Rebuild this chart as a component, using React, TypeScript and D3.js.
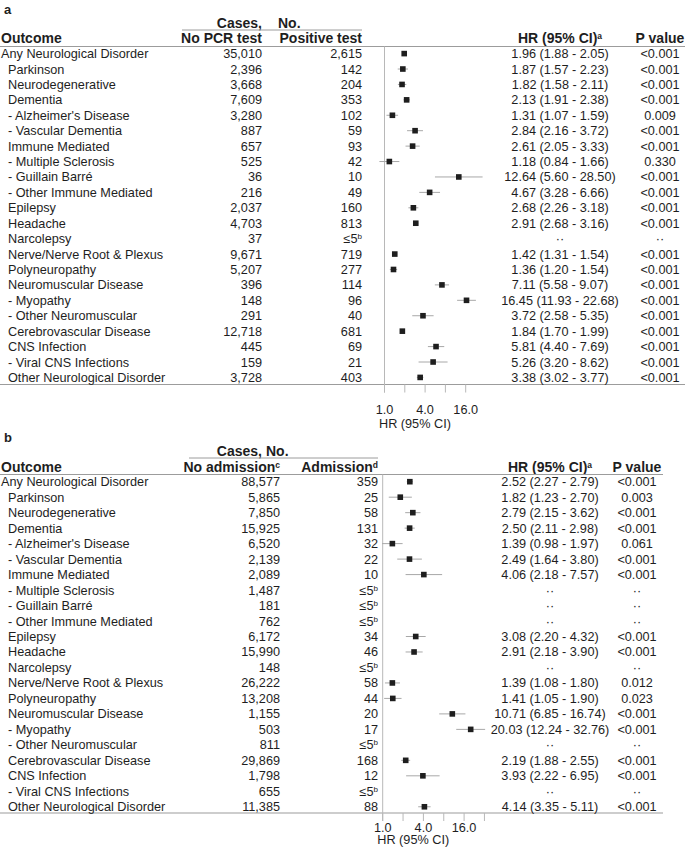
import React from 'react';
import * as d3 from 'd3';

// ---------- DATA ----------
const outcomes = [
  'Any Neurological Disorder',
  'Parkinson',
  'Neurodegenerative',
  'Dementia',
  "- Alzheimer's Disease",
  '- Vascular Dementia',
  'Immune Mediated',
  '- Multiple Sclerosis',
  '- Guillain Barré',
  '- Other Immune Mediated',
  'Epilepsy',
  'Headache',
  'Narcolepsy',
  'Nerve/Nerve Root & Plexus',
  'Polyneuropathy',
  'Neuromuscular Disease',
  '- Myopathy',
  '- Other Neuromuscular',
  'Cerebrovascular Disease',
  'CNS Infection',
  '- Viral CNS Infections',
  'Other Neurological Disorder',
];

// Panel a
const aNoTest = [35010, 2396, 3668, 7609, 3280, 887, 657, 525, 36, 216, 2037, 4703, 37, 9671, 5207, 396, 148, 291, 12718, 445, 159, 3728];
const aPositive: (number | null)[] = [2615, 142, 204, 353, 102, 59, 93, 42, 10, 49, 160, 813, null, 719, 277, 114, 96, 40, 681, 69, 21, 403];
const aHR: (number | null)[] = [1.96, 1.87, 1.82, 2.13, 1.31, 2.84, 2.61, 1.18, 12.64, 4.67, 2.68, 2.91, null, 1.42, 1.36, 7.11, 16.45, 3.72, 1.84, 5.81, 5.26, 3.38];
const aLo: (number | null)[] = [1.88, 1.57, 1.58, 1.91, 1.07, 2.16, 2.05, 0.84, 5.6, 3.28, 2.26, 2.68, null, 1.31, 1.2, 5.58, 11.93, 2.58, 1.7, 4.4, 3.2, 3.02];
const aHi: (number | null)[] = [2.05, 2.23, 2.11, 2.38, 1.59, 3.72, 3.33, 1.66, 28.5, 6.66, 3.18, 3.16, null, 1.54, 1.54, 9.07, 22.68, 5.35, 1.99, 7.69, 8.62, 3.77];
const aP = ['<0.001', '<0.001', '<0.001', '<0.001', '0.009', '<0.001', '<0.001', '0.330', '<0.001', '<0.001', '<0.001', '<0.001', '··', '<0.001', '<0.001', '<0.001', '<0.001', '<0.001', '<0.001', '<0.001', '<0.001', '<0.001'];

// Panel b
const bNoAdm = [88577, 5865, 7850, 15925, 6520, 2139, 2089, 1487, 181, 762, 6172, 15990, 148, 26222, 13208, 1155, 503, 811, 29869, 1798, 655, 11385];
const bAdm: (number | null)[] = [359, 25, 58, 131, 32, 22, 10, null, null, null, 34, 46, null, 58, 44, 20, 17, null, 168, 12, null, 88];
const bHR: (number | null)[] = [2.52, 1.82, 2.79, 2.5, 1.39, 2.49, 4.06, null, null, null, 3.08, 2.91, null, 1.39, 1.41, 10.71, 20.03, null, 2.19, 3.93, null, 4.14];
const bLo: (number | null)[] = [2.27, 1.23, 2.15, 2.11, 0.98, 1.64, 2.18, null, null, null, 2.2, 2.18, null, 1.08, 1.05, 6.85, 12.24, null, 1.88, 2.22, null, 3.35];
const bHi: (number | null)[] = [2.79, 2.7, 3.62, 2.98, 1.97, 3.8, 7.57, null, null, null, 4.32, 3.9, null, 1.8, 1.9, 16.74, 32.76, null, 2.55, 6.95, null, 5.11];
const bP = ['<0.001', '0.003', '<0.001', '<0.001', '0.061', '<0.001', '<0.001', '··', '··', '··', '<0.001', '<0.001', '··', '0.012', '0.023', '<0.001', '<0.001', '··', '<0.001', '<0.001', '··', '<0.001'];

const aTicks = [1, 2, 4, 8, 16];
const bTicks = [1, 2, 4, 8, 16, 32];
const tickLabels = [1, 4, 16];

// ---------- STYLE ----------
const FONT = '"Liberation Sans", Arial, Helvetica, sans-serif';
const TXT = '#1e1e1e';
const LINE = '#9c9c9c';
const VLINE = '#b8b8b8';
const CI = '#a8a8a8';
const FS = 12.7;
const HFS = 14;

const fmtN = d3.format(',');
const f2 = (v: number) => v.toFixed(2);

type PanelProps = {
  letter: string;
  head1: string; head1Sup?: string;
  head2: string; head2Sup?: string;
  colA: number[]; colB: (number | null)[];
  hr: (number | null)[]; lo: (number | null)[]; hi: (number | null)[]; p: string[];
  ticks: number[];
  L: {
    letterY: number; spanY: number; spanTextY: number; spanX1: number; spanX2: number;
    casesEnd: number; noStart: number;
    headY: number; headLineY: number; lineX2: number;
    row0: number; step: number; bottomY: number;
    x0: number; dec: number; tickEnd: number; tickLabY: number; axisLabY: number;
    colAR: number; colBR: number; hrC: number; pC: number;
  };
};

function Sup({ t }: { t?: string }) {
  if (!t) return null;
  return <tspan fontSize={8.5} dy={-4.5}>{t}</tspan>;
}

function Panel(props: PanelProps) {
  const { L } = props;
  const maxT = props.ticks[props.ticks.length - 1];
  const x = d3.scaleLog().base(2).domain([1, maxT]).range([L.x0, L.x0 + Math.log2(maxT) * L.dec]);
  const y = (i: number) => L.row0 + i * L.step;
  const bold = { fontWeight: 700, fontSize: HFS } as const;
  return (
    <g fontFamily={FONT} fill={TXT}>
      <text x={4} y={L.letterY} {...bold} fontSize={13}>{props.letter}</text>
      <text x={L.casesEnd} y={L.spanTextY} textAnchor="end" {...bold}>Cases,</text>
      <text x={L.noStart} y={L.spanTextY} {...bold}>No.</text>
      <line x1={L.spanX1} x2={L.spanX2} y1={L.spanY} y2={L.spanY} stroke={LINE} strokeWidth={1} />
      <text x={1} y={L.headY} {...bold}>Outcome</text>
      <text x={L.colAR} y={L.headY} textAnchor="end" {...bold}>{props.head1}<Sup t={props.head1Sup} /></text>
      <text x={L.colBR} y={L.headY} textAnchor="end" {...bold}>{props.head2}<Sup t={props.head2Sup} /></text>
      <text x={L.hrC} y={L.headY} textAnchor="middle" {...bold}>HR (95% CI)<Sup t="a" /></text>
      <text x={L.pC} y={L.headY} textAnchor="middle" {...bold}>P value</text>
      <line x1={0} x2={L.lineX2} y1={L.headLineY} y2={L.headLineY} stroke={LINE} strokeWidth={1.2} />
      <line x1={0} x2={L.lineX2} y1={L.bottomY} y2={L.bottomY} stroke={LINE} strokeWidth={1.2} />
      <line x1={L.x0} x2={L.x0} y1={L.headLineY} y2={L.tickEnd} stroke={VLINE} strokeWidth={1} />
      {props.ticks.map((t) => (
        <line key={t} x1={x(t)} x2={x(t)} y1={L.bottomY} y2={L.tickEnd} stroke={VLINE} strokeWidth={1} />
      ))}
      {tickLabels.map((t) => (
        <text key={t} x={x(t)} y={L.tickLabY} textAnchor="middle" fontSize={FS}>{t.toFixed(1)}</text>
      ))}
      <text x={x(Math.sqrt(8))} y={L.axisLabY} textAnchor="middle" fontSize={FS}>HR (95% CI)</text>
      {outcomes.map((o, i) => {
        const cy = y(i);
        const ty = cy + 4.5;
        const h = props.hr[i], lo = props.lo[i], hi = props.hi[i];
        const b = props.colB[i];
        return (
          <g key={i} fontSize={FS}>
            <text x={i === 0 ? 1 : 8} y={ty}>{o}</text>
            <text x={L.colAR} y={ty} textAnchor="end">{fmtN(props.colA[i])}</text>
            <text x={L.colBR} y={ty} textAnchor="end">{b === null ? <>≤5<tspan fontSize={8} dy={-4}>b</tspan></> : fmtN(b)}</text>
            <text x={L.hrC} y={ty} textAnchor="middle">{h === null ? '··' : `${f2(h)} (${f2(lo!)} - ${f2(hi!)})`}</text>
            <text x={L.pC} y={ty} textAnchor="middle">{props.p[i]}</text>
            {h !== null && (
              <>
                <line x1={x(lo!)} x2={x(hi!)} y1={cy} y2={cy} stroke={CI} strokeWidth={1} />
                <rect x={x(h) - 2.8} y={cy - 2.8} width={5.6} height={5.6} fill={TXT} />
              </>
            )}
          </g>
        );
      })}
    </g>
  );
}

export default function App() {
  return (
    <svg width={685} height={860} style={{ position: 'absolute', left: 0, top: 0, background: '#fff' }}>
      <rect width={685} height={860} fill="#fff" />
      <Panel
        letter="a" head1="No PCR test" head2="Positive test"
        colA={aNoTest} colB={aPositive} hr={aHR} lo={aLo} hi={aHi} p={aP} ticks={aTicks}
        L={{
          letterY: 13.5, spanY: 30, spanTextY: 27.5, spanX1: 182, spanX2: 362, casesEnd: 262, noStart: 278,
          headY: 43, headLineY: 46.5, lineX2: 685,
          row0: 53.6, step: 15.42, bottomY: 384.5,
          x0: 384.5, dec: 20.3, tickEnd: 392.5, tickLabY: 413.5, axisLabY: 428,
          colAR: 262, colBR: 362, hrC: 560, pC: 660,
        }}
      />
      <Panel
        letter="b" head1="No admission" head1Sup="c" head2="Admission" head2Sup="d"
        colA={bNoAdm} colB={bAdm} hr={bHR} lo={bLo} hi={bHi} p={bP} ticks={bTicks}
        L={{
          letterY: 442, spanY: 458, spanTextY: 456, spanX1: 189, spanX2: 378, casesEnd: 262, noStart: 266,
          headY: 472, headLineY: 474.5, lineX2: 663,
          row0: 481.7, step: 15.48, bottomY: 813,
          x0: 382.7, dec: 20.35, tickEnd: 821, tickLabY: 831.5, axisLabY: 844,
          colAR: 280, colBR: 378, hrC: 550, pC: 637,
        }}
      />
    </svg>
  );
}
